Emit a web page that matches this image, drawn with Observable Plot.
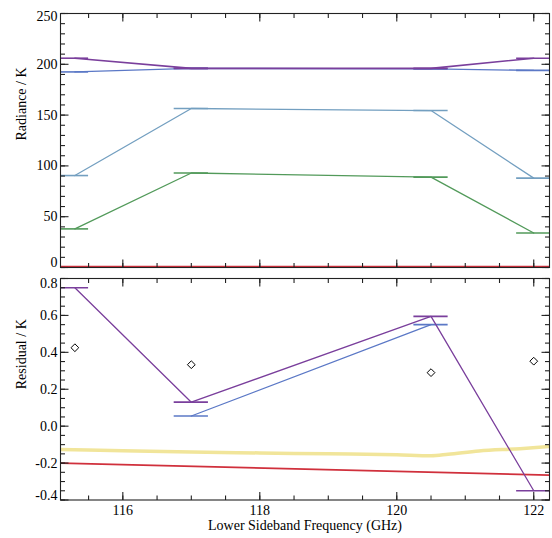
<!DOCTYPE html>
<html>
<head>
<meta charset="utf-8">
<script src="https://cdn.jsdelivr.net/npm/d3@7"></script>
<script src="https://cdn.jsdelivr.net/npm/@observablehq/plot@0.6"></script>
<style>
  html, body { margin: 0; padding: 0; background: white; }
  #chart svg { display: block; }
</style>
</head>
<body>
<div id="chart"></div>
<script>
// ---------- data ----------
const freq = [115.3, 117.0, 120.5, 122.0];          // channel centre frequencies (GHz)
const halfWidth = [0.2, 0.25, 0.25, 0.25];           // channel half-widths (GHz)

// top panel: radiance / K
const radPurple = [206, 196, 196, 206];
const radBlue   = [192.5, 196, 195.5, 194];
const radCyan   = [90.5, 156.5, 154.5, 88];
const radGreen  = [38, 93, 89, 34];
const redTopFreq = [115.09, 122.23];
const redTopVals = [1.0, 1.0];

// bottom panel: residual / K
const resPurple = [0.75, 0.13, 0.595, -0.35];
const resBlueFreq = [117.0, 120.5];
const resBlueHalf = [0.25, 0.25];
const resBlue = [0.055, 0.55];
const diamondVals = [0.425, 0.333, 0.29, 0.352];
const yellowFreq = [115.09, 116, 117, 118, 119, 120, 120.5, 120.75, 121.2, 121.8, 122.23];
const yellowVals = [-0.127, -0.133, -0.14, -0.145, -0.15, -0.155, -0.16, -0.152, -0.134, -0.122, -0.11];
const redBotFreq = [115.09, 122.23];
const redBotVals = [-0.2, -0.265];

// axis ticks
const xMajor = [116, 118, 120, 122];
const xMinor = d3.range(115.5, 122.3, 0.5);
const yTopMajor = [0, 50, 100, 150, 200, 250];
const yTopMinor = d3.range(0, 251, 10);
const yBotMajor = [-0.4, -0.2, 0.0, 0.2, 0.4, 0.6, 0.8];
const yBotMinor = d3.range(0, 25).map(i => -0.4 + i * 0.05);

const colors = {
  purple: "#7a3f9c", blue: "#5b78c6", cyan: "#739fc0",
  green: "#529a5a", red: "#d0303c", yellow: "#f1e59a"
};

// ---------- helpers ----------
const rows = (xs, ys, hw) => xs.map((x, i) => ({x, y: ys[i], hw: hw ? hw[i] : 0}));
const series = (data, color, sw = 1.3) => [
  Plot.line(data, {x: "x", y: "y", stroke: color, strokeWidth: sw, clip: true}),
  Plot.ruleY(data, {x1: d => d.x - d.hw, x2: d => d.x + d.hw, y: "y", stroke: color, strokeWidth: 1.6, clip: true})
];
const font = {fontFamily: "'Liberation Serif', 'DejaVu Serif', serif", fontSize: "14px", background: "white", color: "black"};
const xDomain = [115.09, 122.23];
const W = 552, ML = 60, MR = 3;
const MAJ = 8, MIN = 4.5;

// inward-pointing ticks on all four sides (lengths converted from pixels to data units)
function frameTicks(yDomain, yMajor, yMinor, frameH) {
  const fw = W - ML - MR;
  const kx = (xDomain[1] - xDomain[0]) / fw;
  const ky = (yDomain[1] - yDomain[0]) / frameH;
  const tick = [];
  for (const [vals, len] of [[yMinor, MIN], [yMajor, MAJ]]) {
    for (const v of vals) {
      tick.push({x1: xDomain[0], x2: xDomain[0] + len * kx, y1: v, y2: v});
      tick.push({x1: xDomain[1] - len * kx, x2: xDomain[1], y1: v, y2: v});
    }
  }
  for (const [vals, len] of [[xMinor, MIN], [xMajor, MAJ]]) {
    for (const v of vals) {
      tick.push({x1: v, x2: v, y1: yDomain[0], y2: yDomain[0] + len * ky});
      tick.push({x1: v, x2: v, y1: yDomain[1] - len * ky, y2: yDomain[1]});
    }
  }
  return [
    Plot.link(tick, {x1: "x1", y1: "y1", x2: "x2", y2: "y2", stroke: "#222", strokeWidth: 1.1}),
    Plot.frame({stroke: "#222", strokeWidth: 1.1})
  ];
}
// tick labels only, with a small vertical nudge
const yLabels = (ticks, fmt, dy = 0) =>
  Plot.axisY({anchor: "left", ticks, tickSize: 0, tickPadding: 3, tickFormat: fmt, dy, label: null});

// ---------- top panel ----------
const topFmt = d => String(d);
const topDomain = [0, 250];
const topPlot = Plot.plot({
  width: W, height: 270,
  marginTop: 13, marginBottom: 3, marginLeft: ML, marginRight: MR,
  style: font,
  x: {domain: xDomain, axis: null},
  y: {domain: topDomain},
  marks: [
    Plot.line(rows(redTopFreq, redTopVals), {x: "x", y: "y", stroke: colors.red, strokeWidth: 1.5, clip: true}),
    ...series(rows(freq, radGreen, halfWidth), colors.green),
    ...series(rows(freq, radCyan, halfWidth), colors.cyan),
    ...series(rows(freq, radBlue, halfWidth), colors.blue),
    ...series(rows(freq, radPurple, halfWidth), colors.purple, 1.6),
    ...frameTicks(topDomain, yTopMajor, yTopMinor, 270 - 13 - 3),
    yLabels(yTopMajor.slice(1, 5), topFmt),
    yLabels([yTopMajor[5]], topFmt, 3),
    yLabels([yTopMajor[0]], topFmt, -5),
    Plot.text(["Radiance / K"], {frameAnchor: "left", rotate: -90, dx: -39, fontSize: 14, fill: "black"})
  ]
});

// ---------- bottom panel ----------
const botFmt = d => d.toFixed(1);
const botDomain = [-0.4, 0.8];
const botPlot = Plot.plot({
  width: W, height: 268,
  marginTop: 8, marginBottom: 38.5, marginLeft: ML, marginRight: MR,
  style: font,
  x: {domain: xDomain},
  y: {domain: botDomain},
  marks: [
    Plot.line(rows(yellowFreq, yellowVals), {x: "x", y: "y", stroke: colors.yellow, strokeWidth: 3.5, curve: "monotone-x", clip: true}),
    Plot.line(rows(redBotFreq, redBotVals), {x: "x", y: "y", stroke: colors.red, strokeWidth: 1.8, clip: true}),
    ...series(rows(resBlueFreq, resBlue, resBlueHalf), colors.blue),
    ...series(rows(freq, resPurple, halfWidth), colors.purple),
    Plot.dot(rows(freq, diamondVals), {x: "x", y: "y", symbol: "diamond2", r: 3.5, stroke: "black", strokeWidth: 1, fill: "none"}),
    ...frameTicks(botDomain, yBotMajor, yBotMinor, 268 - 8 - 38.5),
    yLabels(yBotMajor.slice(1, 6), botFmt),
    yLabels([yBotMajor[6]], botFmt, 5),
    yLabels([yBotMajor[0]], botFmt, -4),
    Plot.axisX({anchor: "bottom", ticks: xMajor, tickSize: 0, tickPadding: 5, tickFormat: d => String(d), label: null}),
    Plot.text(["Residual / K"], {frameAnchor: "left", rotate: -90, dx: -39, fontSize: 14, fill: "black"}),
    Plot.text(["Lower Sideband Frequency (GHz)"], {frameAnchor: "bottom", dy: 29.5, fontSize: 14, fill: "black"})
  ]
});

document.getElementById("chart").append(topPlot, botPlot);
</script>
</body>
</html>
